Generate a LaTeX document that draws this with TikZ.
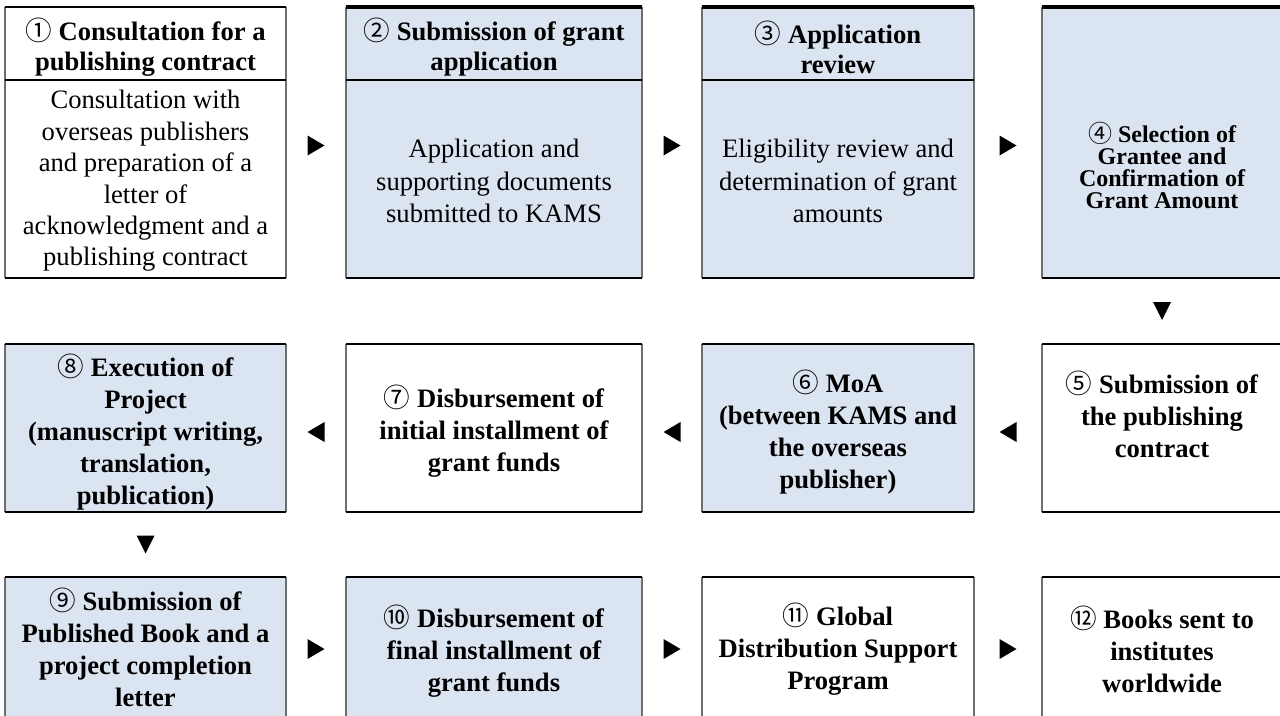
\documentclass[tikz,border=0pt]{standalone}
\usepackage{fontspec}
\setmainfont{Liberation Serif}
\newfontfamily\circfont[Scale=1.0]{Noto Sans CJK KR}
\usetikzlibrary{calc}
\definecolor{boxblue}{RGB}{219,228,241}
\definecolor{sidegray}{RGB}{110,110,110}
\newcommand{\cnum}[1]{{\circfont\mdseries #1}}
\begin{document}
\begin{tikzpicture}[x=0.5bp,y=-0.5bp,
  cell/.style={draw=none,inner sep=0pt,outer sep=0pt,anchor=north west},
  bluecell/.style={cell,fill=boxblue},
  whitecell/.style={cell,fill=white},
  r1/.style={minimum height=135.5bp},
  r2/.style={minimum height=84bp},
  r3/.style={minimum height=72bp},
  wA/.style={minimum width=140.5bp},
  wB/.style={minimum width=148bp},
  wC/.style={minimum width=136bp},
  wD/.style={minimum width=120bp},
  topthin/.style={draw=black,line width=0.6bp},
  topthick/.style={draw=black,line width=1.6bp},
  sideline/.style={draw=sidegray,line width=0.6bp},
  botline/.style={draw=black,line width=0.6bp},
  bodytxt/.style={align=center,inner sep=0pt,font=\fontsize{13.3bp}{16.2bp}\selectfont},
  bodytxtA/.style={align=center,inner sep=0pt,font=\fontsize{13.3bp}{15.7bp}\selectfont},
  headtxt/.style={align=center,inner sep=0pt,font=\fontsize{13.3bp}{15bp}\selectfont\bfseries},
  boldtxt/.style={align=center,inner sep=0pt,font=\fontsize{13.3bp}{16bp}\selectfont\bfseries},
  smalltxt/.style={align=center,inner sep=0pt,font=\fontsize{12bp}{11bp}\selectfont\bfseries},
  rtri/.pic={\fill[black] (-8.5,-10) -- (8.5,0) -- (-8.5,10) -- cycle;},
  ltri/.pic={\fill[black] (8.5,-10) -- (-8.5,0) -- (8.5,10) -- cycle;},
  dtri/.pic={\fill[black] (-9,-9) -- (9,-9) -- (0,9) -- cycle;}
]
\fill[white] (0,0) rectangle (1280,715);
\useasboundingbox (0,0) rectangle (1280,715);

% row 1
\node[whitecell,r1,wA] (b1) at (5,7) {};
\node[bluecell,r1,wB] (b2) at (346,7) {};
\node[bluecell,r1,wC] (b3) at (702,7) {};
\node[bluecell,r1,wD] (b4) at (1042,7) {};
% row 2
\node[bluecell,r2,wA] (b8) at (5,344) {};
\node[whitecell,r2,wB] (b7) at (346,344) {};
\node[bluecell,r2,wC] (b6) at (702,344) {};
\node[whitecell,r2,wD] (b5) at (1042,344) {};
% row 3
\node[bluecell,r3,wA] (b9) at (5,577) {};
\node[bluecell,r3,wB] (b10) at (346,577) {};
\node[whitecell,r3,wC] (b11) at (702,577) {};
\node[whitecell,r3,wD] (b12) at (1042,577) {};

% borders
\foreach \b in {b1,b2,b3,b4,b5,b6,b7,b8,b9,b10,b11,b12}{
  \draw[sideline] (\b.north west) -- (\b.south west);
  \draw[sideline] (\b.north east) -- (\b.south east);
  \draw[botline] (\b.south west) -- (\b.south east);
}
\foreach \b in {b1,b5,b6,b7,b8,b9,b10,b11,b12}{
  \draw[topthin] (\b.north west) -- (\b.north east);
}
\foreach \b in {b2,b3,b4}{
  \draw[topthick] (\b.north west) -- (\b.north east);
}
\foreach \b in {b1,b2,b3}{
  \draw[botline] ($(\b.north west)+(0,73)$) -- ($(\b.north east)+(0,73)$);
}

% texts
\node[headtxt] (h1) at ($(b1.north)+(0,40)$) {\cnum{①} Consultation for a\\publishing contract};
\node[bodytxtA] (t1) at ($(b1.north)+(0,174)$) {Consultation with\\overseas publishers\\and preparation of a\\letter of\\acknowledgment and a\\publishing contract};
\node[headtxt] (h2) at ($(b2.north)+(0,40)$) {\cnum{②} Submission of grant\\application};
\node[bodytxt] (t2) at ($(b2.north)+(0,174)$) {Application and\\supporting documents\\submitted to KAMS};
\node[headtxt] (h3) at ($(b3.north)+(0,40)$) {\cnum{③} Application\\review};
\node[bodytxt] (t3) at ($(b3.north)+(0,174)$) {Eligibility review and\\determination of grant\\amounts};
\node[smalltxt] (t4) at ($(b4.north)+(0,158)$) {\cnum{④} Selection of\\Grantee and\\Confirmation of\\Grant Amount};
\node[boldtxt] (t5) at ($(b5.north)+(0,70)$) {\cnum{⑤} Submission of\\the publishing\\contract};
\node[boldtxt] (t6) at ($(b6.north)+(0,88)$) {\cnum{⑥} MoA\\(between KAMS and\\the overseas\\publisher)};
\node[boldtxt] (t7) at ($(b7.north)+(0,87)$) {\cnum{⑦} Disbursement of\\initial installment of\\grant funds};
\node[boldtxt] (t8) at ($(b8.north)+(0,88)$) {\cnum{⑧} Execution of\\Project\\(manuscript writing,\\translation,\\publication)};
\node[boldtxt] (t9) at ($(b9.north)+(0,70)$) {\cnum{⑨} Submission of\\Published Book and a\\project completion\\letter};
\node[boldtxt] (t10) at ($(b10.north)+(0,74)$) {\cnum{⑩} Disbursement of\\final installment of\\grant funds};
\node[boldtxt] (t11) at ($(b11.north)+(0,72)$) {\cnum{⑪} Global\\Distribution Support\\Program};
\node[boldtxt] (t12) at ($(b12.north)+(0,72)$) {\cnum{⑫} Books sent to\\institutes\\worldwide};

% arrows
\pic at ($(b1.east)!0.5!(b2.west)+(0,3)$) {rtri};
\pic at ($(b2.east)!0.5!(b3.west)+(0,3)$) {rtri};
\pic at ($(b3.east)!0.5!(b4.west)+(0,3)$) {rtri};
\pic at ($(b4.south)!0.5!(b5.north)$) {dtri};
\pic at ($(b5.west)!0.5!(b6.east)+(0,4)$) {ltri};
\pic at ($(b6.west)!0.5!(b7.east)+(0,4)$) {ltri};
\pic at ($(b7.west)!0.5!(b8.east)+(0,4)$) {ltri};
\pic at ($(b8.south)!0.5!(b9.north)$) {dtri};
\pic at ($(b9.east)!0.5!(b10.west)$) {rtri};
\pic at ($(b10.east)!0.5!(b11.west)$) {rtri};
\pic at ($(b11.east)!0.5!(b12.west)$) {rtri};
\end{tikzpicture}
\end{document}
